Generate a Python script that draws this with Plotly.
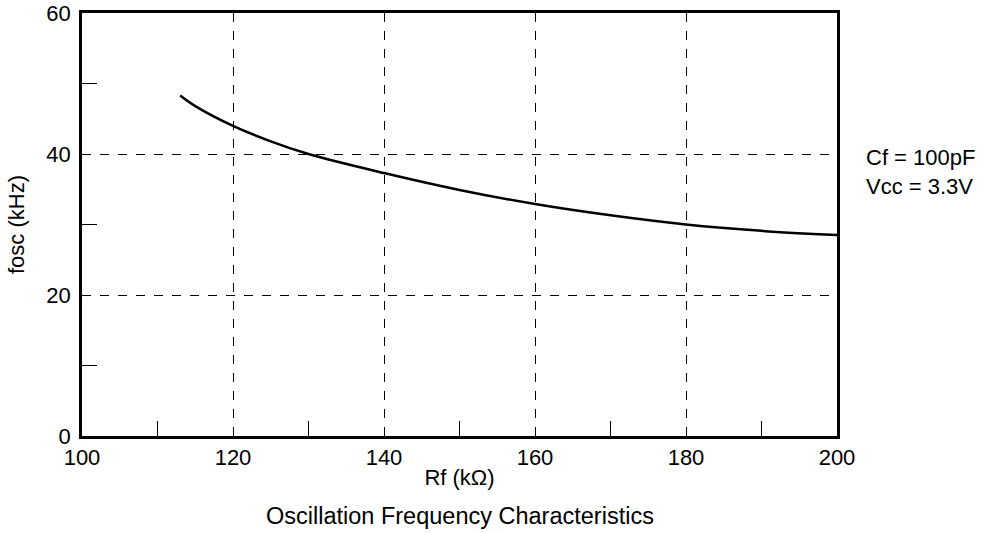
import plotly.graph_objects as go

rf_kohm = [113, 115, 120, 125, 130, 140, 150, 160, 170, 180, 190, 200]
fosc_khz = [48.3, 46.8, 44.0, 41.8, 40.0, 37.3, 34.9, 32.9, 31.3, 30.0, 29.1, 28.5]

x_ticks = [100, 120, 140, 160, 180, 200]
y_ticks = [0, 20, 40, 60]

FONT = "Liberation Sans, Arial, sans-serif"
FS = 22

fig = go.Figure()
fig.add_trace(go.Scatter(x=rf_kohm, y=fosc_khz, mode="lines",
                         line=dict(color="black", width=2.5, shape="spline", smoothing=1.0),
                         showlegend=False, hoverinfo="skip"))

fig.update_layout(
    width=993, height=533,
    margin=dict(l=82, r=156, t=13, b=97, autoexpand=False),
    paper_bgcolor="white", plot_bgcolor="white",
    font=dict(family=FONT, size=FS, color="black"),
    xaxis=dict(range=[100, 200], tickvals=x_ticks, ticktext=[str(v) for v in x_ticks],
               showline=True, linecolor="black", linewidth=2.5, mirror=True,
               showgrid=True, gridcolor="black", gridwidth=1, griddash="dash",
               ticks="", zeroline=False, tickfont=dict(size=FS), automargin=False,
               ticklabeloverflow="allow",
               title=dict(text="Rf (kΩ)", font=dict(size=FS), standoff=1),
               minor=dict(tick0=110, dtick=20, ticks="inside", ticklen=15,
                          tickcolor="black", tickwidth=1.2, showgrid=False)),
    yaxis=dict(range=[0, 60], tickvals=y_ticks, ticktext=[str(v) for v in y_ticks],
               showline=True, linecolor="black", linewidth=2.5, mirror=True,
               showgrid=True, gridcolor="black", gridwidth=1, griddash="dash",
               ticks="", zeroline=False, tickfont=dict(size=FS), automargin=False,
               ticklabelstandoff=4, ticklabeloverflow="allow",
               title=dict(text="fosc (kHz)", font=dict(size=FS), standoff=16),
               minor=dict(tick0=10, dtick=20, ticks="inside", ticklen=15,
                          tickcolor="black", tickwidth=1.2, showgrid=False)),
    annotations=[
        dict(text="Cf = 100pF<br>Vcc = 3.3V", xref="paper", yref="paper",
             x=1.0, y=0.624, xshift=27, xanchor="left", yanchor="middle", align="left",
             showarrow=False, font=dict(size=FS)),
        dict(text="Oscillation Frequency Characteristics", xref="paper", yref="paper",
             x=0.5, y=0, yshift=-80, xanchor="center", yanchor="middle",
             showarrow=False, font=dict(size=23.5)),
    ],
)

fig.write_html("out.html", config={"displayModeBar": False},
               post_script="document.body.style.margin='0';document.body.style.padding='0';")
